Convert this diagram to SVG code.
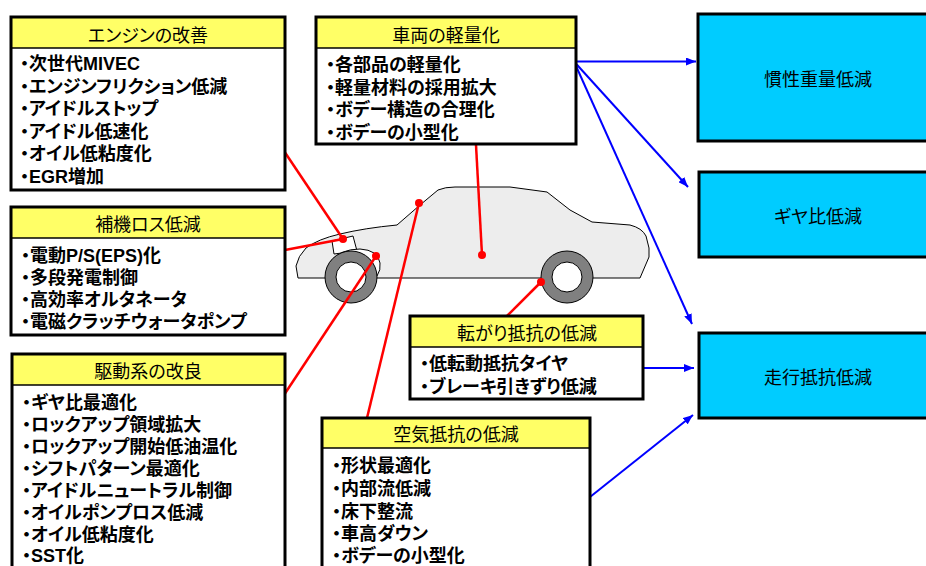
<svg xmlns="http://www.w3.org/2000/svg" width="926" height="566" viewBox="0 0 926 566">
  <style>
    text { font-family: "Liberation Sans", "Noto Sans CJK JP", sans-serif; font-feature-settings: "palt"; fill: #000; }
    .hd { font-size: 18px; text-anchor: middle; }
    .it { font-size: 18px; font-weight: bold; }
    .res { font-size: 18px; text-anchor: middle; }
    .body { fill: #fff; }
    .head { fill: #ffff66; }
    .sep { stroke: #000; stroke-width: 1.5; }
    .frame { fill: none; stroke: #000; stroke-width: 3; }
    .result { fill: #00ccff; stroke: #000; stroke-width: 3; }
    .red { stroke: #ff0000; stroke-width: 2.5; fill: none; }
    .dot { fill: #ff0000; }
    .blue { stroke: #0000ff; stroke-width: 2; fill: none; marker-end: url(#arrow); }
    .tire { fill: #808080; stroke: #000; stroke-width: 1; }
    .rim { fill: #fff; stroke: #000; stroke-width: 1; }
  </style>
  <defs>
    <marker id="arrow" viewBox="0 0 10 8" refX="10" refY="4" markerWidth="10" markerHeight="8" markerUnits="userSpaceOnUse" orient="auto">
      <path d="M0,0 L10,4 L0,8 z" fill="#0000ff"/>
    </marker>
  </defs>

  <rect width="926" height="566" fill="#fff"/>

  <!-- car side view -->
  <g id="car">
    <path d="M298,278 L296,266 Q298,256 306,248 Q318,239 340,234 Q365,228 397,225 L420,205 L438,190 Q445,187 455,187 L510,187 L547,192 L570,210 L592,222 L630,225 Q642,228 646,236 L649,248 L649,257 L640,278 Z" fill="#ededed" stroke="#000" stroke-width="1"/>
    <path d="M332,241 L353,236 L357,251 L334,254 Z" fill="#fff" stroke="#000" stroke-width="1"/>
    <path d="M330,262 Q340,249 360,249 Q378,250 380,263 Q381,270 377,276 L330,276 Z" fill="#fff" stroke="#000" stroke-width="1"/>
    <circle class="tire" cx="351" cy="277" r="26"/>
    <circle class="rim" cx="351" cy="277" r="15"/>
    <circle class="tire" cx="567" cy="277" r="26"/>
    <circle class="rim" cx="567" cy="277" r="15"/>
  </g>

  <!-- connectors: red pointers onto the car, blue arrows to the effects -->
  <g id="connectors">
    <line class="red" x1="284" y1="151" x2="343" y2="239"/>
    <line class="red" x1="285" y1="250" x2="343" y2="239"/>
    <line class="red" x1="280" y1="401" x2="376" y2="256"/>
    <line class="red" x1="367" y1="418" x2="419" y2="203"/>
    <line class="red" x1="476" y1="145" x2="482" y2="255"/>
    <line class="red" x1="507" y1="316" x2="541" y2="282"/>
    <circle class="dot" cx="343" cy="239" r="4"/>
    <circle class="dot" cx="376" cy="256" r="4"/>
    <circle class="dot" cx="419" cy="203" r="4"/>
    <circle class="dot" cx="482" cy="255" r="4"/>
    <circle class="dot" cx="541" cy="282" r="4"/>

    <line class="blue" x1="574" y1="61.5" x2="696" y2="61.5"/>
    <line class="blue" x1="574" y1="61.5" x2="688" y2="187"/>
    <line class="blue" x1="574" y1="61.5" x2="692" y2="324"/>
    <line class="blue" x1="643" y1="368" x2="694" y2="368"/>
    <line class="blue" x1="590" y1="497" x2="693" y2="415"/>
  </g>

  <g id="node-engine">
    <rect class="body" x="11" y="17" width="274" height="173"/>
    <rect class="head" x="11" y="17" width="274" height="31"/>
    <line class="sep" x1="11" y1="48" x2="285" y2="48"/>
    <rect class="frame" x="11" y="17" width="274" height="173"/>
    <text class="hd" x="148" y="42">エンジンの改善</text>
    <text class="it" x="20" y="70">・次世代MIVEC</text>
    <text class="it" x="20" y="92.6">・エンジンフリクション低減</text>
    <text class="it" x="20" y="115.2">・アイドルストップ</text>
    <text class="it" x="20" y="137.8">・アイドル低速化</text>
    <text class="it" x="20" y="160.4">・オイル低粘度化</text>
    <text class="it" x="20" y="183">・EGR増加</text>
  </g>

  <g id="node-weight">
    <rect class="body" x="316" y="17" width="260" height="127"/>
    <rect class="head" x="316" y="17" width="260" height="31"/>
    <line class="sep" x1="316" y1="48" x2="576" y2="48"/>
    <rect class="frame" x="316" y="17" width="260" height="127"/>
    <text class="hd" x="446" y="42">車両の軽量化</text>
    <text class="it" x="326" y="71">・各部品の軽量化</text>
    <text class="it" x="326" y="93.6">・軽量材料の採用拡大</text>
    <text class="it" x="326" y="116.2">・ボデー構造の合理化</text>
    <text class="it" x="326" y="138.8">・ボデーの小型化</text>
  </g>

  <g id="node-aux">
    <rect class="body" x="11" y="207" width="274" height="128"/>
    <rect class="head" x="11" y="207" width="274" height="31"/>
    <line class="sep" x1="11" y1="238" x2="285" y2="238"/>
    <rect class="frame" x="11" y="207" width="274" height="128"/>
    <text class="hd" x="148" y="231">補機ロス低減</text>
    <text class="it" x="21" y="262">・電動P/S(EPS)化</text>
    <text class="it" x="21" y="284">・多段発電制御</text>
    <text class="it" x="21" y="306">・高効率オルタネータ</text>
    <text class="it" x="21" y="328">・電磁クラッチウォータポンプ</text>
  </g>

  <g id="node-drive">
    <rect class="body" x="12" y="354" width="273" height="230"/>
    <rect class="head" x="12" y="354" width="273" height="31"/>
    <line class="sep" x1="12" y1="385" x2="285" y2="385"/>
    <rect class="frame" x="12" y="354" width="273" height="230"/>
    <text class="hd" x="148" y="378">駆動系の改良</text>
    <text class="it" x="22" y="408.5">・ギヤ比最適化</text>
    <text class="it" x="22" y="430.5">・ロックアップ領域拡大</text>
    <text class="it" x="22" y="452.5">・ロックアップ開始低油温化</text>
    <text class="it" x="22" y="474.5">・シフトパターン最適化</text>
    <text class="it" x="22" y="496.5">・アイドルニュートラル制御</text>
    <text class="it" x="22" y="518.5">・オイルポンプロス低減</text>
    <text class="it" x="22" y="540.5">・オイル低粘度化</text>
    <text class="it" x="22" y="562">・SST化</text>
  </g>

  <g id="node-rolling">
    <rect class="body" x="410" y="316" width="233" height="83"/>
    <rect class="head" x="410" y="316" width="233" height="31"/>
    <line class="sep" x1="410" y1="347" x2="643" y2="347"/>
    <rect class="frame" x="410" y="316" width="233" height="83"/>
    <text class="hd" x="527" y="340">転がり抵抗の低減</text>
    <text class="it" x="420" y="370">・低転動抵抗タイヤ</text>
    <text class="it" x="420" y="393">・ブレーキ引きずり低減</text>
  </g>

  <g id="node-aero">
    <rect class="body" x="322" y="418" width="268" height="170"/>
    <rect class="head" x="322" y="418" width="268" height="30"/>
    <line class="sep" x1="322" y1="448" x2="590" y2="448"/>
    <rect class="frame" x="322" y="418" width="268" height="170"/>
    <text class="hd" x="456" y="441">空気抵抗の低減</text>
    <text class="it" x="332" y="472">・形状最適化</text>
    <text class="it" x="332" y="495">・内部流低減</text>
    <text class="it" x="332" y="518">・床下整流</text>
    <text class="it" x="332" y="540">・車高ダウン</text>
    <text class="it" x="332" y="562">・ボデーの小型化</text>
  </g>

  <g id="node-inertia">
    <rect class="result" x="698" y="14" width="240" height="127"/>
    <text class="res" x="818" y="86">慣性重量低減</text>
  </g>

  <g id="node-gear">
    <rect class="result" x="699" y="172" width="240" height="85"/>
    <text class="res" x="818" y="223">ギヤ比低減</text>
  </g>

  <g id="node-running">
    <rect class="result" x="699" y="333" width="240" height="85"/>
    <text class="res" x="818" y="384">走行抵抗低減</text>
  </g>
</svg>
